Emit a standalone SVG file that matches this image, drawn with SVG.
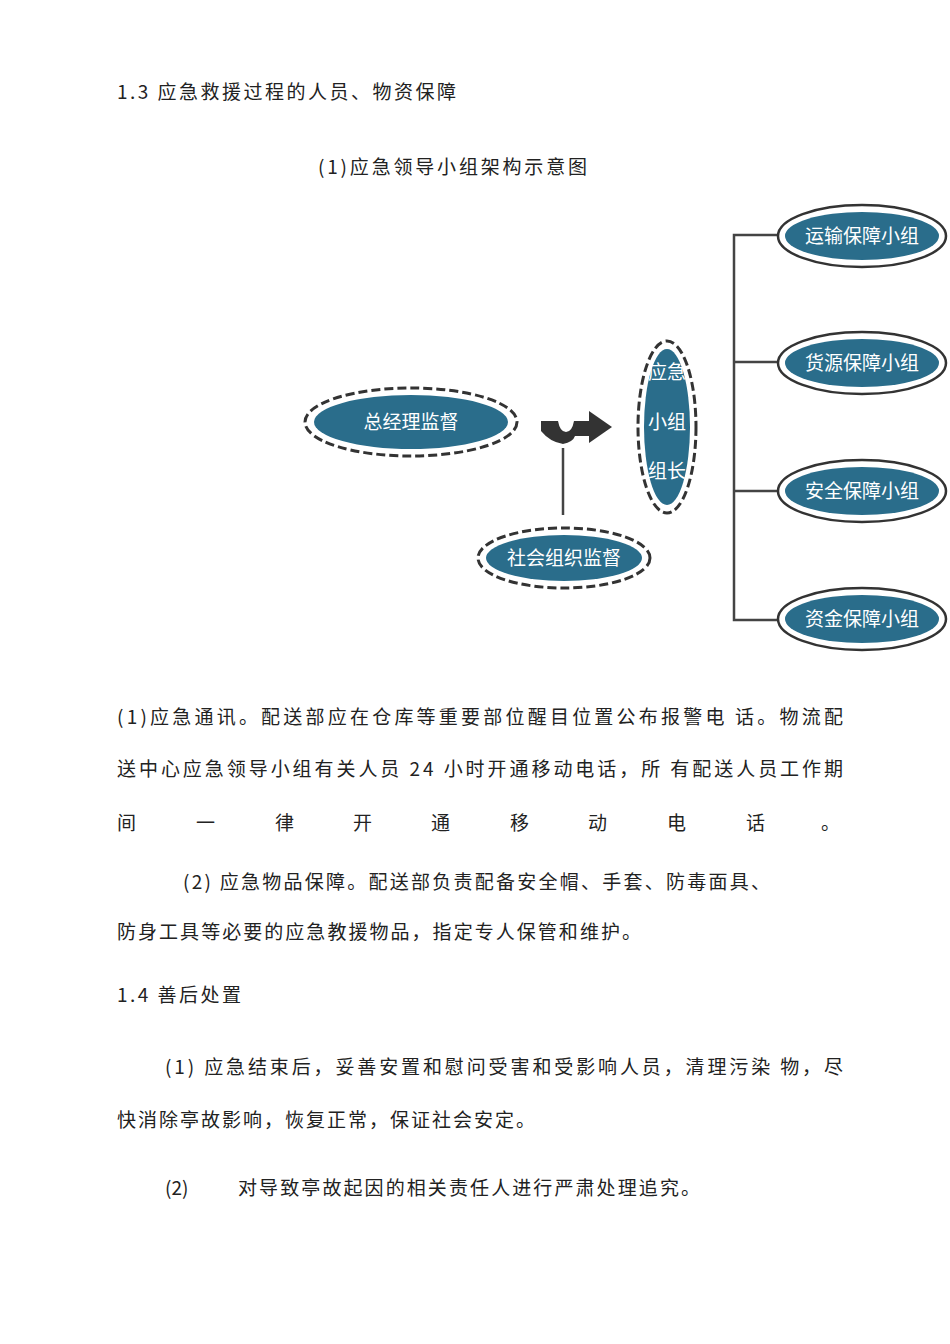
<svg xmlns="http://www.w3.org/2000/svg" width="950" height="1344" viewBox="0 0 950 1344">
<style>
text{font-family:"Noto Sans CJK SC","Noto Sans",sans-serif;}
.b{font-size:19px;fill:#222;}
.w{font-size:19px;fill:#fff;text-anchor:middle;}
.fill{fill:#2a6d8b;}
.dash{fill:#fff;stroke:#333;stroke-width:3;stroke-dasharray:9 4;}
.ring{fill:#fff;stroke:#333;stroke-width:2.5;}
.ln{stroke:#444;stroke-width:2.5;fill:none;}
</style>
<rect width="950" height="1344" fill="#fff"/>
<text class="b" x="117" y="99" textLength="339" lengthAdjust="spacing">1.3 应急救援过程的人员、物资保障</text>
<text class="b" x="318" y="174" textLength="269" lengthAdjust="spacing">(1)应急领导小组架构示意图</text>
<g id="connectors">
<path class="ln" d="M563 448V515"/>
<path class="ln" d="M780 235H734V620H780M734 362H780M734 491H780"/>
<path d="M541 421H558Q560 432 566 432Q572 432 574 421H589V411L612 427L589 443V436H575Q573 442 563 444Q550 442 541 431Z" fill="#333"/>
</g>
<g id="n1"><ellipse class="dash" cx="411" cy="422" rx="106" ry="34"/><ellipse class="fill" cx="411" cy="422" rx="97" ry="27"/><text class="w" x="411" y="429">总经理监督</text></g>
<g id="n2"><ellipse class="dash" cx="564" cy="558" rx="86" ry="30"/><ellipse class="fill" cx="564" cy="558" rx="78" ry="23"/><text class="w" x="564" y="565">社会组织监督</text></g>
<g id="n3"><ellipse class="dash" cx="667" cy="427" rx="29" ry="86"/><ellipse class="fill" cx="667" cy="427" rx="23" ry="78"/><text class="w" x="667" y="379">应急</text><text class="w" x="667" y="429">小组</text><text class="w" x="667" y="478">组长</text></g>
<g id="r1"><ellipse class="ring" cx="862" cy="236" rx="84" ry="31"/><ellipse class="fill" cx="862" cy="236" rx="77" ry="24"/><text class="w" x="862" y="243">运输保障小组</text></g>
<g id="r2"><ellipse class="ring" cx="862" cy="363" rx="84" ry="31"/><ellipse class="fill" cx="862" cy="363" rx="77" ry="24"/><text class="w" x="862" y="370">货源保障小组</text></g>
<g id="r3"><ellipse class="ring" cx="862" cy="491" rx="84" ry="31"/><ellipse class="fill" cx="862" cy="491" rx="77" ry="24"/><text class="w" x="862" y="498">安全保障小组</text></g>
<g id="r4"><ellipse class="ring" cx="862" cy="619" rx="84" ry="31"/><ellipse class="fill" cx="862" cy="619" rx="77" ry="24"/><text class="w" x="862" y="626">资金保障小组</text></g>
<text class="b" x="117" y="724" textLength="726" lengthAdjust="spacing">(1)应急通讯。配送部应在仓库等重要部位醒目位置公布报警电 话。物流配</text>
<text class="b" x="117" y="776" textLength="726" lengthAdjust="spacing">送中心应急领导小组有关人员 24 小时开通移动电话，所 有配送人员工作期</text>
<g class="b"><text x="117" y="830">间</text><text x="196" y="830">一</text><text x="275" y="830">律</text><text x="353" y="830">开</text><text x="431" y="830">通</text><text x="510" y="830">移</text><text x="588" y="830">动</text><text x="667" y="830">电</text><text x="746" y="830">话</text><text x="821" y="830">。</text></g>
<text class="b" x="183" y="889" textLength="587" lengthAdjust="spacing">(2) 应急物品保障。配送部负责配备安全帽、手套、防毒面具、</text>
<text class="b" x="117" y="939" textLength="524" lengthAdjust="spacing">防身工具等必要的应急教援物品，指定专人保管和维护。</text>
<text class="b" x="117" y="1002" textLength="124" lengthAdjust="spacing">1.4 善后处置</text>
<text class="b" x="165" y="1074" textLength="678" lengthAdjust="spacing">(1) 应急结束后，妥善安置和慰问受害和受影响人员，清理污染 物，尽</text>
<text class="b" x="117" y="1127" textLength="418" lengthAdjust="spacing">快消除亭故影响，恢复正常，保证社会安定。</text>
<text class="b" x="165" y="1195">(2)</text><text class="b" x="238" y="1195" textLength="462" lengthAdjust="spacing">对导致亭故起因的相关责任人进行严肃处理追究。</text>
</svg>
